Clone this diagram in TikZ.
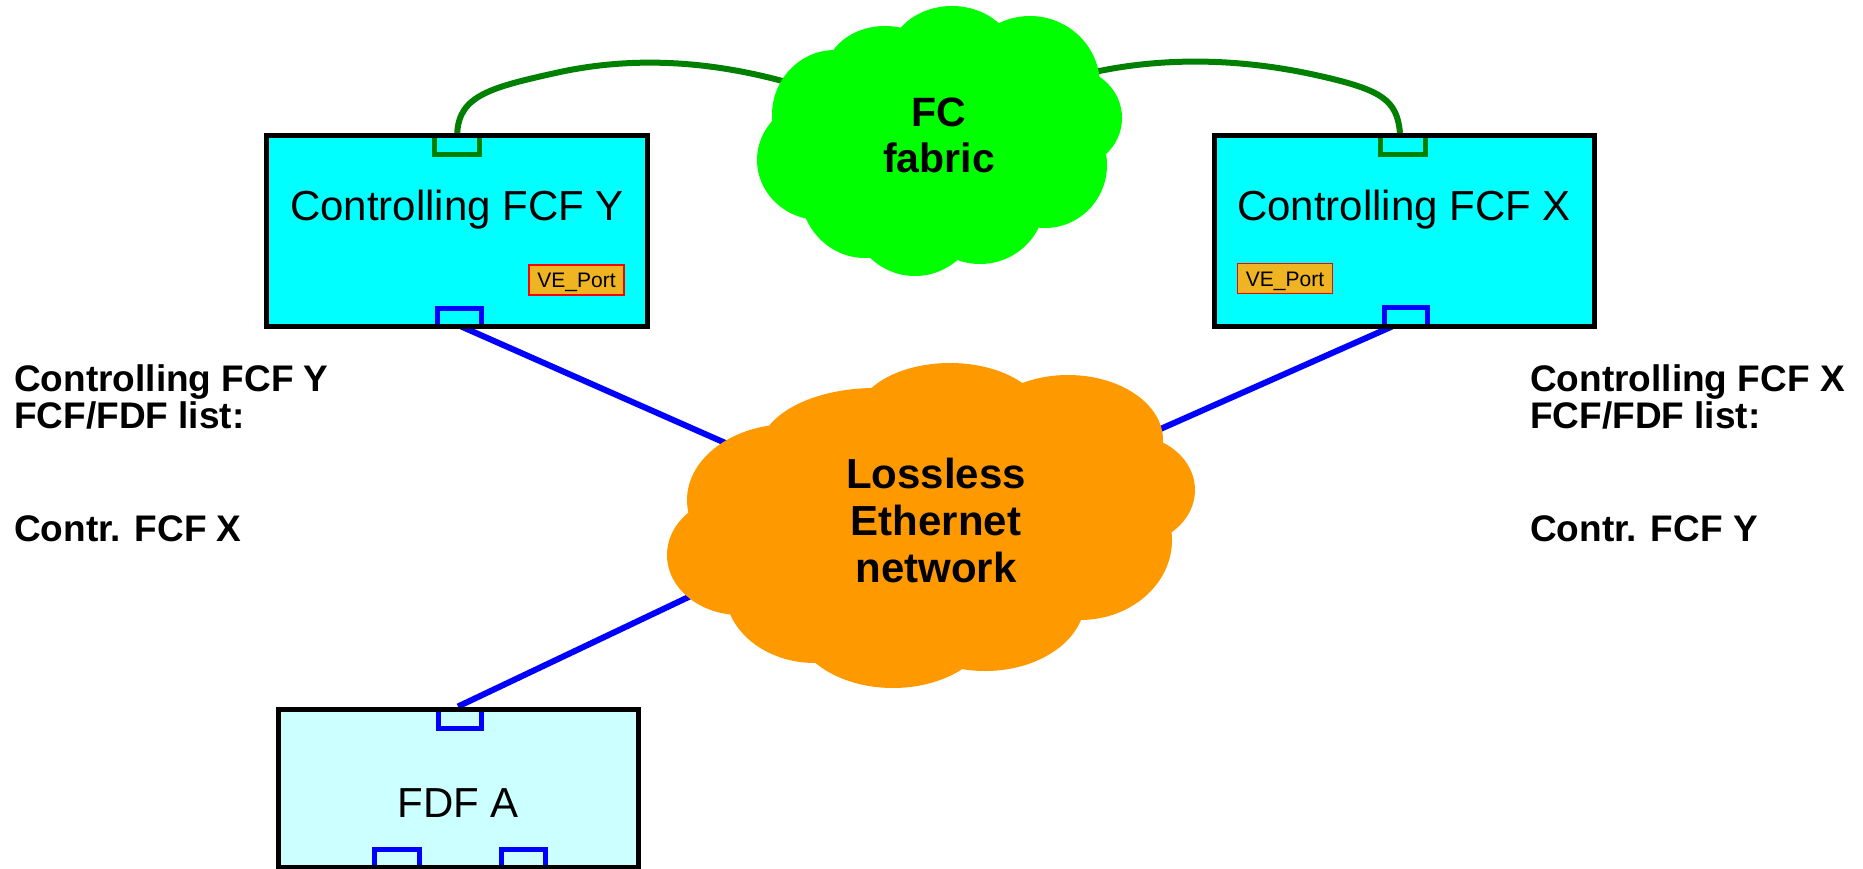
\documentclass[tikz,border=0pt]{standalone}
\usepackage{fontspec}
\setmainfont{Liberation Sans}
\usetikzlibrary{calc}
\definecolor{fcgreen}{RGB}{0,255,0}
\definecolor{darkg}{RGB}{0,128,0}
\definecolor{ethor}{RGB}{255,153,0}
\definecolor{boxcyan}{RGB}{0,255,255}
\definecolor{fdfcyan}{RGB}{204,255,255}
\definecolor{vegold}{RGB}{238,180,34}
\definecolor{portblue}{RGB}{0,0,255}
\pgfdeclarelayer{wires}
\pgfdeclarelayer{clouds}
\pgfsetlayers{wires,clouds,main}
\begin{document}
\begin{tikzpicture}[x=1pt,y=-1pt,
  fcfbox/.style={draw=black,line width=5pt,fill=boxcyan,rectangle,inner sep=0pt,minimum width=381pt,minimum height=190.5pt},
  fdfbox/.style={draw=black,line width=5pt,fill=fdfcyan,rectangle,inner sep=0pt,minimum width=360pt,minimum height=158pt},
  veport/.style={draw=red,line width=1.5pt,fill=vegold,inner sep=0pt,minimum width=95pt,minimum height=30pt,text height=15pt,text depth=0pt,font=\fontsize{21}{24}\selectfont},
  boxtext/.style={anchor=base,inner sep=0pt,font=\fontsize{42}{47}\selectfont},
  cloudtext/.style={align=center,inner sep=0pt,font=\fontsize{42}{47}\selectfont\bfseries},
  fctext/.style={align=center,inner sep=0pt,font=\fontsize{41}{46}\selectfont\bfseries},
  sidetext/.style={anchor=base west,inner sep=0pt,font=\fontsize{37}{37.5}\selectfont\bfseries},
  gport/.style={draw=darkg,line width=5pt},
  bport/.style={draw=portblue,line width=5pt},
  gwire/.style={draw=darkg,line width=6pt},
  bwire/.style={draw=portblue,line width=6pt}]
\useasboundingbox (0,0) rectangle (1863,868);

% boxes
\node[fcfbox] (cY) at (457.25,230.75) {};
\node[boxtext] (tY) at (457,220) {Controlling FCF Y};
\node[fcfbox,minimum width=380pt] (cX) at (1404.5,230.75) {};
\node[boxtext] (tX) at (1404,220) {Controlling FCF X};
\node[veport] (veY) at (576.5,280) {VE\_Port};
\node[veport] (veX) at (1285,278.5) {VE\_Port};
\node[fdfbox] (fdf) at (458,788) {};
\node[boxtext] (tF) at (458,817) {FDF A};

% ports
\draw[gport] (434,138) -- (434,154.5) -- (479.5,154.5) -- (479.5,138);
\draw[bport] (437,323.5) -- (437,308) -- (481,308) -- (481,323.5);
\draw[gport] (1380,138) -- (1380,154.5) -- (1425,154.5) -- (1425,138);
\draw[bport] (1384,323.5) -- (1384,307.5) -- (1427,307.5) -- (1427,323.5);
\draw[bport] (438,711.5) -- (438,728) -- (481,728) -- (481,711.5);
\draw[bport] (374,864.5) -- (374,849.5) -- (419,849.5) -- (419,864.5);
\draw[bport] (501,864.5) -- (501,849.5) -- (545,849.5) -- (545,864.5);

% cloud texts
\node[fctext] (fc) at (939,135) {FC\\fabric};
\node[cloudtext] (eth) at (936,520) {Lossless\\Ethernet\\network};

% side labels
\node[sidetext] (lY1) at (14,391) {Controlling FCF Y};
\node[sidetext] (lY2) at (14,428.5) {FCF/FDF list:};
\node[sidetext] (lY3) at (14,541) {Contr. FCF X};
\node[sidetext] (lX1) at (1530,391) {Controlling FCF X};
\node[sidetext] (lX2) at (1530,428.5) {FCF/FDF list:};
\node[sidetext] (lX3) at (1530,541) {Contr. FCF Y};

% connector end points inside the clouds
\coordinate (fcY) at (800,86);
\coordinate (fcX) at (1090,73);
\coordinate (ethY) at (900,520);
\coordinate (ethX) at (1000,500);
\coordinate (ethF) at (815,537);

\begin{pgfonlayer}{clouds}
\fill[fcgreen]
  (885,75) ellipse [x radius=60pt, y radius=49pt]
  (952,60) ellipse [x radius=64pt, y radius=54pt]
  (1030,85) ellipse [x radius=70pt, y radius=69pt]
  (1070,118) ellipse [x radius=52pt, y radius=50pt]
  (1045,165) ellipse [x radius=62pt, y radius=63pt]
  (980,200) ellipse [x radius=65pt, y radius=64pt]
  (915,210) ellipse [x radius=65pt, y radius=66pt]
  (865,190) ellipse [x radius=65pt, y radius=68pt]
  (820,160) ellipse [x radius=63pt, y radius=60pt]
  (835,115) ellipse [x radius=63pt, y radius=65pt]
  (940,140) ellipse [x radius=140pt, y radius=90pt];
\fill[ethor]
  (950,420) ellipse [x radius=95pt, y radius=57pt]
  (1068,440) ellipse [x radius=95pt, y radius=65pt]
  (1130,490) ellipse [x radius=65pt, y radius=55pt]
  (1080,540) ellipse [x radius=92pt, y radius=80pt]
  (985,600) ellipse [x radius=100pt, y radius=71pt]
  (893,620) ellipse [x radius=100pt, y radius=68pt]
  (815,590) ellipse [x radius=90pt, y radius=73pt]
  (740,555) ellipse [x radius=73pt, y radius=60pt]
  (790,500) ellipse [x radius=103pt, y radius=76pt]
  (875,450) ellipse [x radius=115pt, y radius=62pt]
  (930,530) ellipse [x radius=200pt, y radius=130pt];
\end{pgfonlayer}

\begin{pgfonlayer}{wires}
\draw[gwire] (cY.north) .. controls (459,95) and (492,87) .. (560,72)
  .. controls (640,55) and (720,62) .. (fcY);
\draw[gwire] ($(cX.north)+(-4.5,0)$) .. controls (1397,100) and (1382,90) .. (1320,76)
  .. controls (1250,60) and (1170,55) .. (fcX);
\draw[bwire] ($(cY.south)+(4,-2)$) -- (ethY);
\draw[bwire] ($(cX.south)+(-12.5,-2)$) -- (ethX);
\draw[bwire] (fdf.north) -- (ethF);
\end{pgfonlayer}
\end{tikzpicture}
\end{document}
